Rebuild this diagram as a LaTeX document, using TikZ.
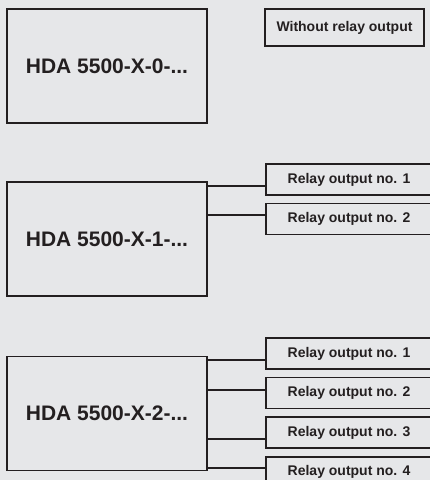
\documentclass[tikz,border=0pt]{standalone}
\usepackage{fontspec}
\setmainfont{Liberation Sans}
\usepackage{xcolor}
\usetikzlibrary{positioning}
\definecolor{panelbg}{RGB}{230,231,233}
\definecolor{ink}{RGB}{35,31,32}

\begin{document}
\begin{tikzpicture}[
  x=1pt, y=-1pt, node distance=7pt,
  unit/.style={rectangle, draw=ink, line width=1.6pt, inner sep=0pt, minimum width=200pt, minimum height=114pt, text=ink, font=\fontsize{21}{24}\selectfont\bfseries},
  relay/.style={rectangle, draw=ink, line width=1.6pt, inner sep=0pt, minimum width=166pt, minimum height=31pt, text=ink, font=\fontsize{14}{16}\selectfont\bfseries},
  wire/.style={draw=ink, line width=1.8pt}
]
\fill[panelbg] (0,0) rectangle (430,480);
\useasboundingbox (0,0) rectangle (430,480);

% without relay
\node[unit] (m0) at (107,66) {HDA 5500-X-0-...};
\node[relay, minimum width=159pt, minimum height=37pt] (n0) at (344.5,27.5) {Without relay output};

% one relay pair
\node[unit] (m1) at (107,239) {HDA 5500-X-1-...};
\node[relay] (a1) at (349,179.5) {Relay output no. 1};
\node[relay, below=of a1] (a2) {Relay output no. 2};

% four relays
\node[unit] (m2) at (107,413.5) {HDA 5500-X-2-...};
\node[relay] (b1) at (349,353.5) {Relay output no. 1};
\node[relay, below=of b1] (b2) {Relay output no. 2};
\node[relay, below=of b2] (b3) {Relay output no. 3};
\node[relay, below=of b3] (b4) {Relay output no. 4};

\foreach \r/\m/\dy in {a1/m1/-6.5, a2/m1/4, b1/m2/-6.5, b2/m2/3, b3/m2/-6.5, b4/m2/4.5}{
  \coordinate (t) at ([yshift=\dy pt]\r.west);
  \draw[wire] (t) -- (t -| \m.east);
}
\end{tikzpicture}
\end{document}
